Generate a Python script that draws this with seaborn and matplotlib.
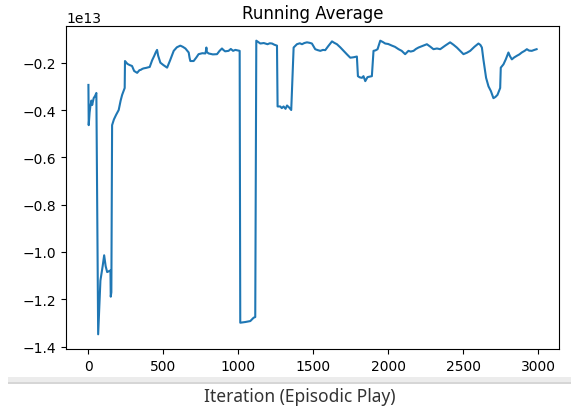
import numpy as np
import pandas as pd
import seaborn as sns
import matplotlib.pyplot as plt
from matplotlib.patches import Rectangle

# running average (units of 1e13)
iterations = [0, 2, 8, 13, 20, 25, 35, 45, 53, 65, 80, 95, 105, 115, 125, 147, 149, 153,
              158, 170, 185, 202, 215, 225, 242, 244, 260, 275, 291, 305, 325, 340, 350,
              360, 369, 385, 409, 425, 440, 450, 458, 465, 480, 500, 525, 545, 569, 590,
              613, 630, 647, 669, 675, 680, 702, 720, 735, 760, 780, 784, 787, 790, 802,
              830, 858, 875, 891, 900, 912, 935, 950, 965, 980, 995, 1009,
              1013, 1047, 1080, 1102, 1113, 1120, 1147, 1170, 1195, 1210, 1225, 1240, 1258,
              1262, 1280, 1290, 1302, 1315, 1325, 1340, 1353, 1369, 1391, 1410, 1425,
              1440, 1458, 1475, 1491, 1513, 1530, 1547, 1565, 1580, 1600, 1625, 1640,
              1658, 1680, 1702, 1725, 1747, 1770, 1791, 1798, 1810, 1825, 1835, 1847,
              1862, 1875, 1891, 1902, 1915, 1929, 1947, 1965, 1980, 2000, 2025, 2045,
              2069, 2090, 2113, 2135, 2150, 2169, 2185, 2202, 2230, 2258, 2280, 2302,
              2325, 2347, 2380, 2413, 2435, 2458, 2480, 2502, 2525, 2547, 2575, 2602,
              2615, 2625, 2635, 2653, 2669, 2685, 2702, 2715, 2729, 2747, 2751, 2769,
              2785, 2802, 2812, 2825, 2840, 2858, 2875, 2891, 2910, 2925, 2940, 2958,
              2975, 2990]
running_avg = [-0.294, -0.464, -0.41, -0.385, -0.36, -0.379, -0.35, -0.34, -0.328, -1.348,
               -1.121, -1.06, -1.014, -1.06, -1.085, -1.078, -1.189, -1.17,
               -0.464, -0.44, -0.42, -0.40, -0.36, -0.336, -0.307, -0.193, -0.205, -0.21,
               -0.214, -0.235, -0.243, -0.232, -0.23,
               -0.226, -0.224, -0.222, -0.218, -0.19, -0.17, -0.155, -0.146, -0.17, -0.20,
               -0.21, -0.221, -0.19, -0.150, -0.135,
               -0.128, -0.133, -0.140, -0.157, -0.18, -0.193, -0.193, -0.178, -0.164,
               -0.16, -0.161, -0.15, -0.136, -0.155, -0.161,
               -0.165, -0.164, -0.150, -0.140, -0.146, -0.152, -0.150, -0.142, -0.150,
               -0.146, -0.148, -0.150,
               -1.299, -1.296, -1.292, -1.278, -1.275, -0.107, -0.119, -0.117, -0.122,
               -0.118, -0.119, -0.124, -0.128,
               -0.385, -0.385, -0.392, -0.385, -0.395, -0.381, -0.390, -0.400, -0.136,
               -0.122, -0.118, -0.122,
               -0.117, -0.114, -0.116, -0.119, -0.143, -0.147, -0.150, -0.146,
               -0.147, -0.130, -0.110, -0.116,
               -0.122, -0.135, -0.150, -0.165, -0.179, -0.177, -0.174, -0.257, -0.262,
               -0.264, -0.257, -0.278,
               -0.261, -0.259, -0.257, -0.150, -0.148, -0.143, -0.107, -0.113, -0.119,
               -0.121, -0.128, -0.133,
               -0.143, -0.150, -0.164, -0.150, -0.153, -0.150, -0.142, -0.136, -0.129,
               -0.122, -0.132, -0.143,
               -0.140, -0.143, -0.128, -0.114, -0.124, -0.136, -0.150, -0.164, -0.158,
               -0.150, -0.133, -0.119,
               -0.125, -0.136, -0.186, -0.264, -0.300, -0.320, -0.350, -0.345, -0.336,
               -0.307, -0.221, -0.207,
               -0.185, -0.157, -0.172, -0.186, -0.178, -0.171, -0.165, -0.157, -0.150,
               -0.143, -0.149, -0.150,
               -0.146, -0.143]

df = pd.DataFrame({'iteration': iterations, 'avg': np.array(running_avg) * 1e13})

plt.rcParams['font.size'] = 10
fig = plt.figure(figsize=(5.71, 4.14), dpi=100)
ax = fig.add_axes([0.1156, 0.1546, 0.8634, 0.7802])

sns.lineplot(data=df, x='iteration', y='avg', color='#1f77b4', linewidth=1.5,
             estimator=None, ax=ax)
ax.set_xlabel('')
ax.set_ylabel('')
ax.set_title('Running Average')
ax.set_xticks([0, 500, 1000, 1500, 2000, 2500, 3000])

# screenshot-like separator band and the caption below it
fig.patches.append(Rectangle((8 / 571, 1 - 385 / 414), 1, 7 / 414, transform=fig.transFigure,
                             facecolor='#ececec', edgecolor='none'))
fig.patches.append(Rectangle((8 / 571, 1 - 385 / 414), 1, 2 / 414, transform=fig.transFigure,
                             facecolor='#d6d6d6', edgecolor='none'))
fig.text(300 / 571, 1 - 397 / 414, 'Iteration (Episodic Play)', ha='center', va='center',
         fontsize=12.5, color='#333333', family=['Noto Sans', 'DejaVu Sans'])

plt.savefig('out.png', dpi=100)
plt.close()
